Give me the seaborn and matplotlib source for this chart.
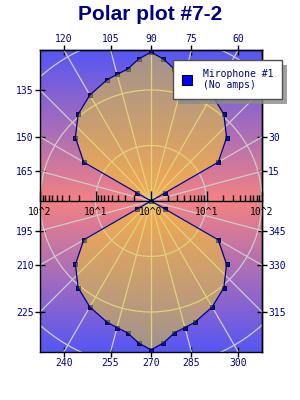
import numpy as np
import matplotlib
matplotlib.use("Agg")
import matplotlib.pyplot as plt
from matplotlib.colors import LinearSegmentedColormap
from matplotlib.lines import Line2D
from matplotlib.patches import Circle
import seaborn as sns

# polar data: angle in degrees, radius on a log scale
angles = [0, 30, 30, 40, 50, 60, 70, 75, 80, 85, 90, 95, 100, 105, 110, 120, 130, 140, 150, 150, 180,
          210, 210, 220, 230, 240, 250, 255, 260, 265, 270, 275, 280, 285, 290, 300, 310, 320, 330, 330, 360]
radii = [1, 2, 25, 60, 110, 160, 210, 230, 260, 370, 480, 370, 260, 230, 210, 160, 110, 60, 25, 2, 1,
         2, 25, 60, 110, 160, 210, 230, 260, 370, 480, 370, 260, 230, 210, 160, 110, 60, 25, 2, 1]
series_label = "Mirophone #1\n(No amps)"

top_angles = [120, 105, 90, 75, 60]
bottom_angles = [240, 255, 270, 285, 300]
left_angles = [135, 150, 165, 195, 210, 225]
right_angles = [30, 15, 345, 330, 315]
decade_labels = ["10^2", "10^1", "10^0", "10^1", "10^2"]

sns.set_theme(style="white")
plt.rcParams["font.family"] = ["DejaVu Sans Mono"]
plt.rcParams["axes.edgecolor"] = "black"
plt.rcParams["axes.linewidth"] = 1.0

X, Y = 2.0, 2.0 * 302 / 222

fig = plt.figure(figsize=(3, 4), dpi=100)
fig.patch.set_facecolor("white")
ax = fig.add_axes([40 / 300, 48 / 400, 222 / 300, 302 / 400])

# background gradient
cmap = LinearSegmentedColormap.from_list("bg", ["#5656f4", "#f48282", "#5656f4"])
ax.imshow(np.linspace(0, 1, 256).reshape(-1, 1), cmap=cmap, extent=(-X, X, -Y, Y),
          aspect="auto", zorder=0)

# polar grid
for a in range(0, 360, 15):
    t = np.radians(a)
    ax.plot([0, 4 * np.cos(t)], [0, 4 * np.sin(t)], color="#cccccc", lw=0.9, zorder=1)
for r in (1, 2, 3):
    ax.add_patch(Circle((0, 0), r, fill=False, ec="#cccccc", lw=0.9, zorder=1))

theta = np.radians(angles)
lr = np.log10(radii)
px, py = lr * np.cos(theta), lr * np.sin(theta)

sns.scatterplot(x=px, y=py, marker="s", s=12, color="#0000ff", edgecolor="black",
                linewidth=0.7, zorder=2, ax=ax, legend=False)
ax.fill(px, py, color="#fadc14", alpha=0.45, lw=0, zorder=3)
sns.lineplot(x=px, y=py, sort=False, estimator=None, color="#00008c", lw=0.9,
             zorder=4, ax=ax, legend=False)

ax.set_xlim(-X, X)
ax.set_ylim(-Y, Y)
ax.set_xlabel("")
ax.set_ylabel("")


def edge_x(angs, yedge):
    t = np.radians(angs)
    return yedge * np.cos(t) / np.sin(t)


def edge_y(angs, xedge):
    t = np.radians(angs)
    return xedge * np.tan(t)


tick_kw = dict(direction="inout", length=7, width=1, color="black",
               labelcolor="#000080", labelsize=7, pad=1)

ax.set_xticks(edge_x(bottom_angles, -Y), [str(a) for a in bottom_angles])
ax.set_yticks(edge_y(left_angles, -X), [str(a) for a in left_angles])
ax.tick_params(bottom=True, left=True, **tick_kw)

top = ax.secondary_xaxis("top")
top.set_ticks(edge_x(top_angles, Y), [str(a) for a in top_angles])
top.tick_params(**tick_kw)

right = ax.secondary_yaxis("right")
right.set_ticks(edge_y(right_angles, X), [str(a) for a in right_angles])
right.tick_params(**tick_kw)

# log radius axis through the centre
mid = ax.secondary_xaxis(0.5)
mid.set_alignment("bottom")
mid.set_ticks([-2, -1, 0, 1, 2], decade_labels)
m = np.log10(np.arange(2, 10))
mid.set_ticks(np.concatenate([m, 1 + m, -m, -1 - m]), minor=True)
mid.tick_params(which="both", direction="in", color="black", labelcolor="black",
                labelsize=7, pad=4, width=1)
mid.tick_params(which="major", length=7)
mid.tick_params(which="minor", length=4)
mid.set_zorder(4.5)

handle = Line2D([], [], ls="none", marker="s", markersize=6.5, markerfacecolor="#0000ff",
                markeredgecolor="black", markeredgewidth=0.8)
ax.legend([handle], [series_label], loc="upper left",
          bbox_to_anchor=(173 / 300, 1 - 60 / 400), bbox_transform=fig.transFigure,
          frameon=True, fancybox=False, framealpha=1, edgecolor="#505050",
          facecolor="white", labelcolor="#000080", fontsize=7, borderpad=0.9,
          handlelength=1.0, handletextpad=1.15, borderaxespad=0,
          shadow={"ox": 3.5, "oy": -3.5, "facecolor": "#8a8a8a", "edgecolor": "none", "alpha": 0.8})

fig.text(0.5, 1 - 14 / 400, "Polar plot #7-2", ha="center", va="center", fontsize=15,
         fontweight="bold", color="#000080", family="Liberation Sans")

fig.savefig("out.png", dpi=100)
